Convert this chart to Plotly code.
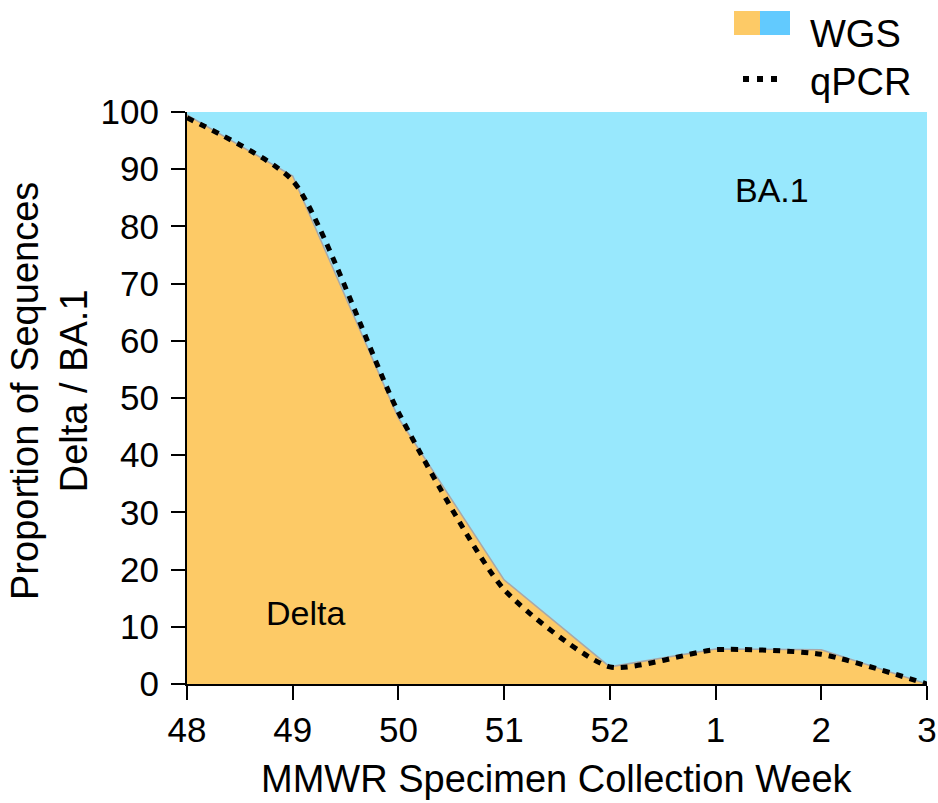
import plotly.graph_objects as go

weeks = ["48", "49", "50", "51", "52", "1", "2", "3"]
wgs_delta = [99.5, 88.8, 46.5, 18.2, 3.0, 6.1, 6.0, 0.0]
qpcr_delta = [99.0, 88.0, 47.5, 16.5, 3.0, 6.0, 5.2, 0.0]
total = [100] * len(weeks)

xpos = list(range(len(weeks)))
ORANGE = "#FDCA66"
BLUE = "#98E8FD"
LEG_BLUE = "#62CAFE"
FONT = "Liberation Sans, Arial, sans-serif"

W, H = 938, 803
L, R, T, B = 187, 927, 112, 684  # plot area in pixels


def px_x(p):
    return (p - L) / (R - L)


def px_y(p):
    return (B - p) / (B - T)


fig = go.Figure()
fig.add_trace(go.Scatter(x=xpos, y=wgs_delta, mode="lines", fill="tozeroy",
                         fillcolor=ORANGE, line=dict(color="#A8A8A8", width=1.5),
                         showlegend=False, hoverinfo="skip"))
fig.add_trace(go.Scatter(x=xpos, y=total, mode="lines", fill="tonexty",
                         fillcolor=BLUE, line=dict(color=BLUE, width=0),
                         showlegend=False, hoverinfo="skip"))
fig.add_trace(go.Scatter(x=xpos, y=qpcr_delta, mode="lines",
                         line=dict(color="black", width=5, dash="7px,7px", shape="spline", smoothing=0.6),
                         showlegend=False))

fig.update_layout(
    width=W, height=H,
    margin=dict(l=L, r=W - R, t=T, b=H - B, pad=0),
    paper_bgcolor="white", plot_bgcolor="white",
    font=dict(family=FONT, size=35, color="black"),
    xaxis=dict(range=[0, 7], tickmode="array", tickvals=xpos, ticktext=weeks,
               showgrid=False, zeroline=False, showline=True, linecolor="black", linewidth=2,
               ticks="outside", ticklen=14, tickwidth=2, tickcolor="black",
               tickfont=dict(size=35), automargin=False),
    yaxis=dict(range=[0, 100], tickmode="array", tickvals=list(range(0, 101, 10)),
               showgrid=False, zeroline=False, showline=True, linecolor="black", linewidth=2,
               ticks="outside", ticklen=14, tickwidth=2, tickcolor="black",
               tickfont=dict(size=35), automargin=False, ticklabelstandoff=5),
    annotations=[
        dict(x=5.53, y=86.4, xref="x", yref="y", text="BA.1", showarrow=False, font=dict(size=34)),
        dict(x=1.12, y=12.5, xref="x", yref="y", text="Delta", showarrow=False, font=dict(size=34)),
        dict(x=px_x(557), y=px_y(779), xref="paper", yref="paper",
             text="MMWR Specimen Collection Week", showarrow=False,
             xanchor="center", yanchor="middle", font=dict(size=38)),
        dict(x=px_x(49), y=px_y(391), xref="paper", yref="paper",
             text="Proportion of Sequences<br>Delta / BA.1", showarrow=False, textangle=-90,
             xanchor="center", yanchor="middle", font=dict(size=38)),
        dict(x=px_x(808), y=px_y(34), xref="paper", yref="paper", text="WGS", showarrow=False,
             xanchor="left", yanchor="middle", font=dict(size=38)),
        dict(x=px_x(808), y=px_y(82), xref="paper", yref="paper", text="qPCR", showarrow=False,
             xanchor="left", yanchor="middle", font=dict(size=38)),
    ],
)

# legend swatches
fig.add_shape(type="rect", xref="paper", yref="paper", x0=px_x(734), x1=px_x(760),
              y0=px_y(35), y1=px_y(11), fillcolor=ORANGE, line=dict(width=0))
fig.add_shape(type="rect", xref="paper", yref="paper", x0=px_x(760), x1=px_x(790),
              y0=px_y(35), y1=px_y(11), fillcolor=LEG_BLUE, line=dict(width=0))
fig.add_shape(type="line", xref="paper", yref="paper", x0=px_x(743), x1=px_x(784),
              y0=px_y(79), y1=px_y(79), line=dict(color="black", width=6, dash="6px,8px"))

fig.write_html("out.html", config={"displayModeBar": False},
               post_script="document.body.style.margin='0';document.body.style.overflow='hidden';")
